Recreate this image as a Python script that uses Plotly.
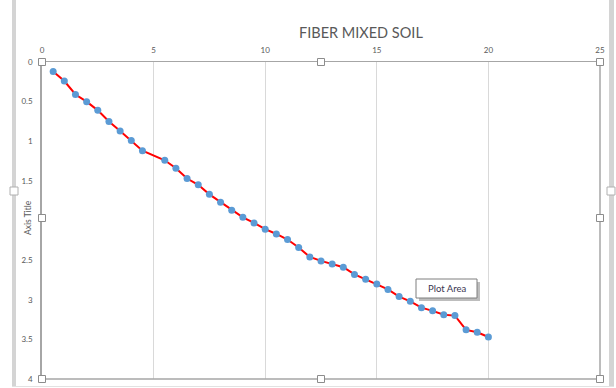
import plotly.graph_objects as go

# Fiber mixed soil test series
x_vals = [0.5, 1.0, 1.5, 2.0, 2.5, 3.0, 3.5, 4.0, 4.5,
          5.5, 6.0, 6.5, 7.0, 7.5, 8.0, 8.5, 9.0, 9.5, 10.0,
          10.5, 11.0, 11.5, 12.0, 12.5, 13.0, 13.5, 14.0, 14.5, 15.0,
          15.5, 16.0, 16.5, 17.0, 17.5, 18.0, 18.5, 19.0, 19.5, 20.0]
y_vals = [0.12, 0.24, 0.41, 0.50, 0.61, 0.75, 0.87, 0.99, 1.12,
          1.24, 1.34, 1.47, 1.55, 1.67, 1.77, 1.87, 1.96, 2.03, 2.11,
          2.17, 2.24, 2.34, 2.46, 2.51, 2.55, 2.59, 2.68, 2.74, 2.80,
          2.87, 2.96, 3.02, 3.10, 3.14, 3.19, 3.20, 3.38, 3.41, 3.47]

x_ticks = [0, 5, 10, 15, 20, 25]
y_ticks = [0, 0.5, 1, 1.5, 2, 2.5, 3, 3.5, 4]
# the "2" label sits under the axis title, so it is left blank
y_tick_text = ["0", "0.5", "1", "1.5", "", "2.5", "3", "3.5", "4"]

W, H = 616, 388
L, R, T, B = 42, 16, 62, 9
PW, PH = W - L - R, H - T - B


def px(x):
    return (x - L) / PW


def py(y):
    return (H - B - y) / PH


FONT = "Lato, 'Open Sans', sans-serif"
GREY = "#595959"

fig = go.Figure()
fig.add_trace(go.Scatter(
    x=x_vals, y=y_vals, mode="lines+markers",
    line=dict(color="#FF0000", width=2),
    marker=dict(color="#5B9BD5", size=7),
    showlegend=False, hoverinfo="skip",
))

fig.update_layout(
    width=W, height=H,
    margin=dict(l=L, r=R, t=T, b=B),
    paper_bgcolor="white", plot_bgcolor="white",
    font=dict(family=FONT, color=GREY),
    showlegend=False,
)

fig.update_xaxes(
    range=[0, 25], side="top", tickvals=x_ticks,
    tickfont=dict(size=8, color=GREY),
    showgrid=True, gridcolor="#D9D9D9", gridwidth=1,
    showline=True, linecolor="#A6A6A6", linewidth=1,
    zeroline=False, ticks="", ticklabelstandoff=5, automargin=False,
)
fig.update_yaxes(
    range=[4, 0], tickvals=y_ticks, ticktext=y_tick_text,
    tickfont=dict(size=8, color=GREY),
    showgrid=False,
    showline=True, linecolor="#A6A6A6", linewidth=1.5,
    zeroline=False, ticks="", ticklabelstandoff=6, automargin=False,
)

# right and bottom edges of the selected plot area
shapes = [
    dict(type="line", xref="paper", yref="paper", x0=1, x1=1, y0=0, y1=1,
         line=dict(color="#A6A6A6", width=1.5)),
    dict(type="line", xref="paper", yref="paper", x0=0, x1=1, y0=0, y1=0,
         line=dict(color="#A6A6A6", width=1.5)),
    # outer chart frame bars
    dict(type="rect", xref="paper", yref="paper",
         x0=px(12), x1=px(16), y0=py(387), y1=py(0),
         line=dict(width=0), fillcolor="#D4D4D4", layer="above"),
    dict(type="rect", xref="paper", yref="paper",
         x0=px(609), x1=px(614), y0=py(387), y1=py(0),
         line=dict(width=0), fillcolor="#D4D4D4", layer="above"),
    dict(type="line", xref="paper", yref="paper",
         x0=px(12), x1=px(614), y0=py(386.5), y1=py(386.5),
         line=dict(color="#E2E2E2", width=1)),
]

# selection handles on the plot area
for hx, hy in [(42, 62), (321, 62), (600, 62), (42, 218), (600, 218),
               (42, 379), (321, 379), (600, 379)]:
    shapes.append(dict(
        type="rect", xref="paper", yref="paper",
        x0=px(hx - 3.5), x1=px(hx + 3.5), y0=py(hy + 3.5), y1=py(hy - 3.5),
        line=dict(color="#8C8C8C", width=1), fillcolor="white", layer="above"))

# handles on the chart frame
for hx, hy in [(14, 191), (611, 191)]:
    shapes.append(dict(
        type="rect", xref="paper", yref="paper",
        x0=px(hx - 4), x1=px(hx + 4), y0=py(hy + 4), y1=py(hy - 4),
        line=dict(color="#B0B0B0", width=1), fillcolor="white", layer="above"))

# "Plot Area" tooltip with drop shadow
shapes.append(dict(
    type="rect", xref="paper", yref="paper",
    x0=px(419), x1=px(480), y0=py(301), y1=py(282),
    line=dict(width=0), fillcolor="#BDBDBD", layer="above"))
shapes.append(dict(
    type="rect", xref="paper", yref="paper",
    x0=px(416), x1=px(477), y0=py(298), y1=py(279),
    line=dict(color="#7F7F7F", width=1), fillcolor="white", layer="above"))

fig.update_layout(shapes=shapes)

fig.add_annotation(
    text="Plot Area", xref="paper", yref="paper",
    x=px(446.5), y=py(288.5), xanchor="center", yanchor="middle",
    showarrow=False,
    font=dict(size=9.5, color="#3A3550", family=FONT),
)

fig.add_annotation(
    text="FIBER MIXED SOIL", xref="paper", yref="paper",
    x=px(361), y=py(33), xanchor="center", yanchor="middle",
    showarrow=False,
    font=dict(size=14.5, color=GREY, family=FONT),
)

fig.add_annotation(
    text="Axis Title", xref="paper", yref="paper",
    x=px(28), y=py(218), xanchor="center", yanchor="middle",
    textangle=-90, showarrow=False,
    font=dict(size=8.5, color=GREY, family=FONT),
)

fig.write_html("out.html")
